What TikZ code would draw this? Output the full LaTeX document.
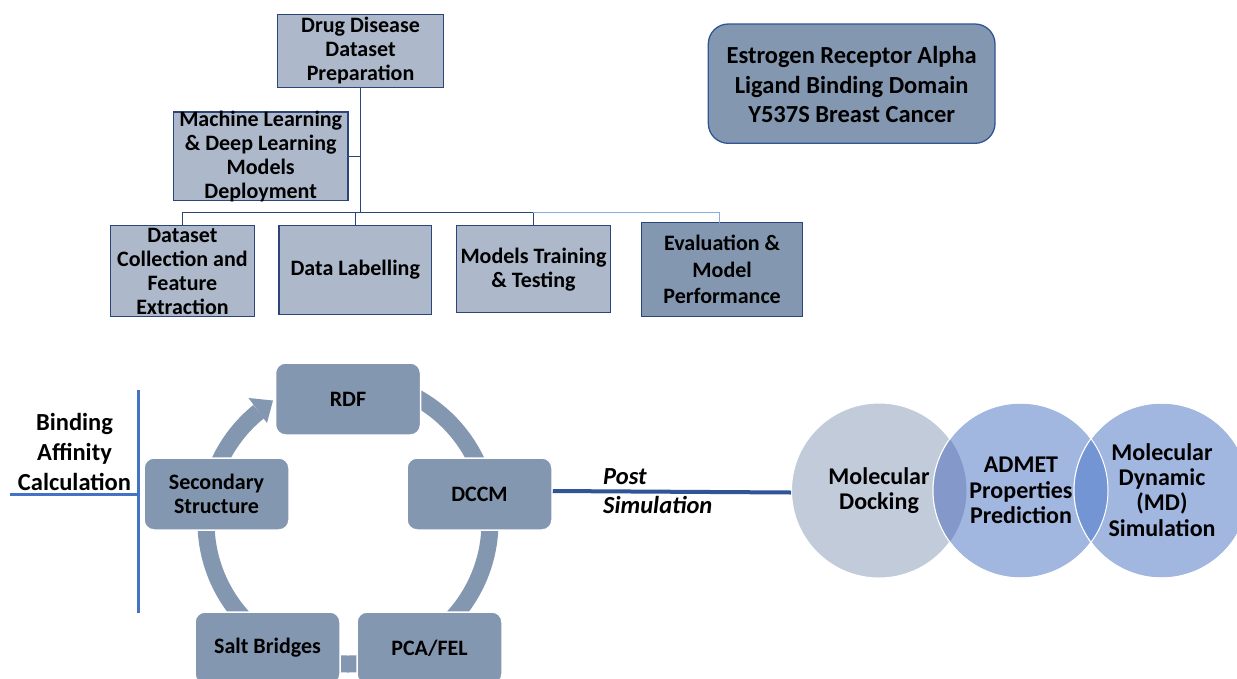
\documentclass[tikz,border=0pt]{standalone}
\usepackage{fontspec}
\setmainfont{Carlito}
\usetikzlibrary{calc}
\definecolor{orgfill}{HTML}{ADB9CA}
\definecolor{darkfill}{HTML}{8497B0}
\definecolor{navyline}{HTML}{2B4479}
\definecolor{lightline}{HTML}{8FAADC}
\definecolor{estborder}{HTML}{2F5597}
\definecolor{accent}{HTML}{4472C4}
\definecolor{postline}{HTML}{2F5597}
\definecolor{cA}{HTML}{C2CBD9}
\definecolor{cB}{HTML}{A2B7E0}
\definecolor{ovAB}{HTML}{8499C9}
\definecolor{ovBC}{HTML}{7395D3}
\begin{document}
\begin{tikzpicture}[x=1pt,y=-1pt,
  orgbox/.style={draw=navyline, line width=1.3pt, fill=orgfill, inner sep=0pt},
  cycbox/.style={draw=white, line width=1.5pt, fill=darkfill, rounded corners=10pt, inner sep=0pt, minimum width=145pt, minimum height=72pt},
  lbl/.style={font=\fontsize{22}{24}\selectfont\bfseries, align=center, inner sep=0pt, text=black},
  biglbl/.style={font=\fontsize{24.5}{29.5}\selectfont\bfseries, align=center, inner sep=0pt, text=black},
  circlbl/.style={font=\fontsize{24}{25.3}\selectfont\bfseries, align=center, inner sep=0pt, text=black},
  venn/.style={circle, minimum size=175pt, inner sep=0pt, draw=white, line width=1pt},
  orgline/.style={draw=navyline, line width=1.3pt},
  bline/.style={draw=accent, line width=3pt}
]
\clip (0,0) rectangle (1237,678);
\fill[white] (0,0) rectangle (1237,678);

% ---------- org chart ----------
\node[orgbox, minimum width=165.7pt, minimum height=73pt] (drug) at (360.55,50.8) {};
\node[lbl] (drugt) at (drug.center) {Drug Disease\\Dataset\\Preparation};
\node[orgbox, minimum width=174.4pt, minimum height=88.7pt] (ml) at (260.7,156.35) {};
\node[lbl] (mlt) at (ml.center) {Machine Learning\\\& Deep Learning\\Models\\Deployment};
\node[orgbox, minimum width=143.7pt, minimum height=91pt] (ds) at (182.45,271.2) {};
\node[lbl] (dst) at (ds.center) {Dataset\\Collection and\\Feature\\Extraction};
\node[orgbox, minimum width=152.5pt, minimum height=88.6pt] (dl) at (355.25,270) {};
\node[lbl] (dlt) at (dl.center) {Data Labelling};
\node[orgbox, minimum width=154.3pt, minimum height=87pt] (mt) at (533.45,269.2) {};
\node[lbl] (mtt) at (mt.center) {Models Training\\\& Testing};
\node[orgbox, fill=darkfill, minimum width=160.7pt, minimum height=94pt] (ev) at (722.15,269.7) {};
\node[lbl, font=\fontsize{22}{26.5}\selectfont\bfseries] (evt) at (ev.center) {Evaluation \&\\Model\\Performance};

\coordinate (j) at (360.55,212.7);
\coordinate (evtop) at (719.8,222.7);
\draw[orgline] (drug.south) -- (j);
\draw[orgline] (ml.east) -- (ml.east -| j);
\draw[orgline] (ds.north |- j) -- (mt.north |- j);
\draw[draw=lightline, line width=1.3pt] (mt.north |- j) -- (evtop |- j) -- (evtop);
\draw[orgline] (ds.north |- j) -- (ds.north);
\draw[orgline] (dl.north |- j) -- (dl.north);
\draw[orgline] (mt.north |- j) -- (mt.north);

% ---------- estrogen box ----------
\node[draw=estborder, line width=1.3pt, fill=darkfill, rounded corners=20pt, minimum width=286.7pt, minimum height=119.3pt, inner sep=0pt] (er) at (851.65,83.65) {};
\node[biglbl] (ert) at (851.65,84.7) {Estrogen Receptor Alpha\\Ligand Binding Domain\\Y537S Breast Cancer};

% ---------- binding affinity ----------
\coordinate (bt) at (138,390);
\coordinate (bb) at (138,613);
\coordinate (bj) at (138,494);
\coordinate (bl) at (10,494);
\draw[bline] (bt) -- (bb);
\draw[bline] (bl) -- (bj);
\node[biglbl, font=\fontsize{24.5}{30}\selectfont\bfseries] (bat) at (74.5,452) {Binding\\Affinity\\Calculation};

% ---------- cycle ----------
\draw[darkfill, line width=17pt] (348,380) arc[start angle=270, end angle=591, radius=142];
\fill[darkfill] (248.5,398) -- (273,400.5) -- (267,423) -- cycle;
\node[cycbox] (rdf) at (348,399) {};
\node[lbl] (rdft) at (rdf.center) {RDF};
\node[cycbox] (dccm) at (479.5,494) {};
\node[lbl] (dccmt) at (dccm.center) {DCCM};
\node[cycbox] (sec) at (216.5,494) {};
\node[lbl, font=\fontsize{22}{23.5}\selectfont\bfseries] (sect) at (sec.center) {Secondary\\Structure};
\node[cycbox] (salt) at (267.5,648) {};
\node[lbl] (saltt) at (salt.center) {Salt Bridges};
\node[cycbox] (pca) at (429.5,648) {};
\node[lbl] (pcat) at (pca.center) {PCA/FEL};

% ---------- venn ----------
\node[venn, fill=cA] (c1) at (879,490.5) {};
\node[venn, fill=cB] (c2) at (1020.5,490.5) {};
\node[venn, fill=cB] (c3) at (1161.5,490.5) {};
\begin{scope}
  \clip (c1.center) circle (87.5);
  \fill[ovAB] (c2.center) circle (87.5);
\end{scope}
\begin{scope}
  \clip (c2.center) circle (87.5);
  \fill[ovBC] (c3.center) circle (87.5);
\end{scope}
\draw[white, line width=1pt] (c2.center) circle (87.5);
\draw[white, line width=1pt] (c3.center) circle (87.5);
\node[circlbl] (c1t) at (879,490.5) {Molecular\\Docking};
\node[circlbl] (c2t) at (1021,490.5) {ADMET\\Properties\\Prediction};
\node[circlbl] (c3t) at (1162,490) {Molecular\\Dynamic\\(MD)\\Simulation};

% ---------- post simulation ----------
\draw[postline, line width=4pt] ($(dccm.east)+(0,-3)$) -- ($(c1.west)+(0,2)$);
\node[font=\fontsize{24.5}{29}\selectfont\bfseries\itshape, align=left, anchor=west, inner sep=0pt] (pst) at (603,491.5) {Post\\Simulation};
\end{tikzpicture}
\end{document}
